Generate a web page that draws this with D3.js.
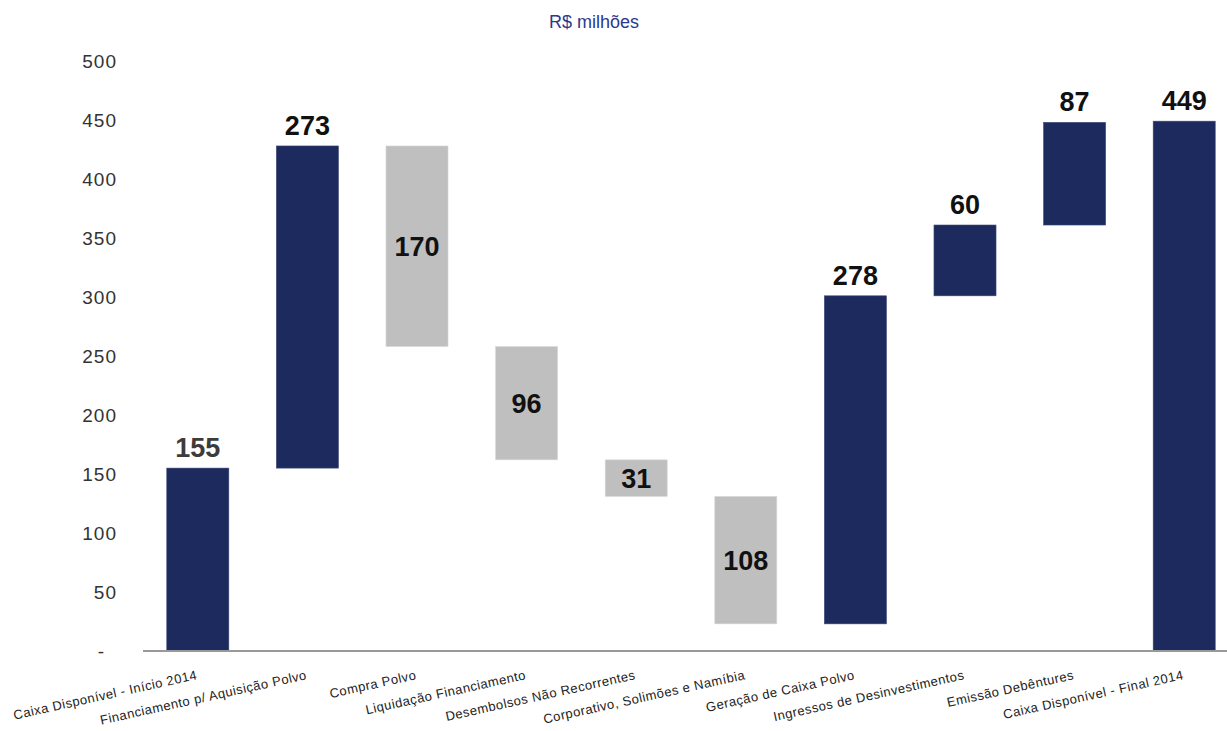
<!DOCTYPE html>
<html>
<head>
<meta charset="utf-8">
<script src="https://cdn.jsdelivr.net/npm/d3@7"></script>
<style>
  body { margin: 0; background: #fff; }
  svg { font-family: Arial, "Liberation Sans", sans-serif; }
</style>
</head>
<body>
<div id="chart"></div>
<script>
// waterfall - caixa 2014 (R$ milhões)
var categories = [
  "Caixa Disponível - Início 2014",
  "Financiamento p/ Aquisição Polvo",
  "Compra Polvo",
  "Liquidação Financiamento",
  "Desembolsos Não Recorrentes",
  "Corporativo, Solimões e Namíbia",
  "Geração de Caixa Polvo",
  "Ingressos de Desinvestimentos",
  "Emissão Debêntures",
  "Caixa Disponível - Final 2014"
]
var values = [155, 273, -170, -96, -31, -108, 278, 60, 87, 449]
var kinds = ["total", "step", "step", "step", "step", "step", "step", "step", "step", "total"]
var yTicks = [0, 50, 100, 150, 200, 250, 300, 350, 400, 450, 500]

var width = 1227
var height = 731

var svg = d3.select("#chart")
  .append("svg")
  .attr("width", width)
  .attr("height", height)

// running totals for the floating bars
var running = 0
var bars = categories.map(function (c, i) {
  var v = values[i], start, end
  if (kinds[i] == "total") {
    start = 0; end = v; running = v
  } else {
    start = running; end = running + v; running = end
  }
  return { name: c, value: v, start: start, end: end, kind: kinds[i] }
})

var y = d3.scaleLinear()
  .domain([0, 500])
  .range([651, 61])

var x = d3.scaleBand()
  .domain(categories)
  .range([143, 1239])
  .paddingInner(0.434)
  .paddingOuter(0.217)

svg.append("text")
  .text("R$ milhões")
  .attr("x", 594)
  .attr("y", 28)
  .attr("text-anchor", "middle")
  .attr("fill", "#2b3a8c")
  .attr("font-size", 18)

// y axis, labels only
var yAxis = svg.append("g")
  .attr("transform", "translate(117,0)")
  .call(d3.axisLeft(y)
    .tickValues(yTicks)
    .tickSize(0)
    .tickPadding(0)
    .tickFormat(function (d) { return d == 0 ? "-" : d }))
yAxis.select(".domain").remove()
yAxis.selectAll("text")
  .attr("font-size", 19)
  .attr("letter-spacing", 1)
  .attr("fill", "#333")
  .attr("font-family", "Arial, 'Liberation Sans', sans-serif")
  .attr("dx", function (d) { return d == 0 ? -12 : 0 })

// bars
svg.selectAll("rect.bar")
  .data(bars)
  .enter()
  .append("rect")
  .attr("class", "bar")
  .attr("x", function (d) { return x(d.name) })
  .attr("width", x.bandwidth())
  .attr("y", function (d) { return y(Math.max(d.start, d.end)) })
  .attr("height", function (d) { return Math.abs(y(d.start) - y(d.end)) })
  .attr("fill", function (d) { return d.value < 0 ? "#bfbfbf" : "#1c2a5e" })
  .attr("stroke", function (d) { return d.value < 0 ? "#d9d9d9" : "#3a4775" })
  .attr("stroke-width", 0.6)

// baseline
svg.append("line")
  .attr("x1", 143)
  .attr("x2", width)
  .attr("y1", y(0))
  .attr("y2", y(0))
  .attr("stroke", "#999")
  .attr("stroke-width", 2)

// value labels
svg.selectAll("text.val")
  .data(bars)
  .enter()
  .append("text")
  .attr("class", "val")
  .text(function (d) { return Math.abs(d.value) })
  .attr("x", function (d) { return x(d.name) + x.bandwidth() / 2 })
  .attr("y", function (d) {
    if (d.value < 0) return (y(d.start) + y(d.end)) / 2 + 9.5
    return y(d.end) - 11
  })
  .attr("text-anchor", "middle")
  .attr("font-size", 27)
  .attr("font-weight", "bold")
  .attr("fill", function (d, i) { return i == 0 ? "#3c3c3c" : "#111" })

// category labels, slanted
svg.selectAll("text.cat")
  .data(bars)
  .enter()
  .append("text")
  .attr("class", "cat")
  .text(function (d) { return d.name })
  .attr("text-anchor", "end")
  .attr("transform", function (d) {
    return "translate(" + (x(d.name) + x.bandwidth() / 2) + ",679)rotate(-12.5)"
  })
  .attr("font-size", 13)
  .attr("letter-spacing", 0.5)
  .attr("fill", "#222")
</script>
</body>
</html>
